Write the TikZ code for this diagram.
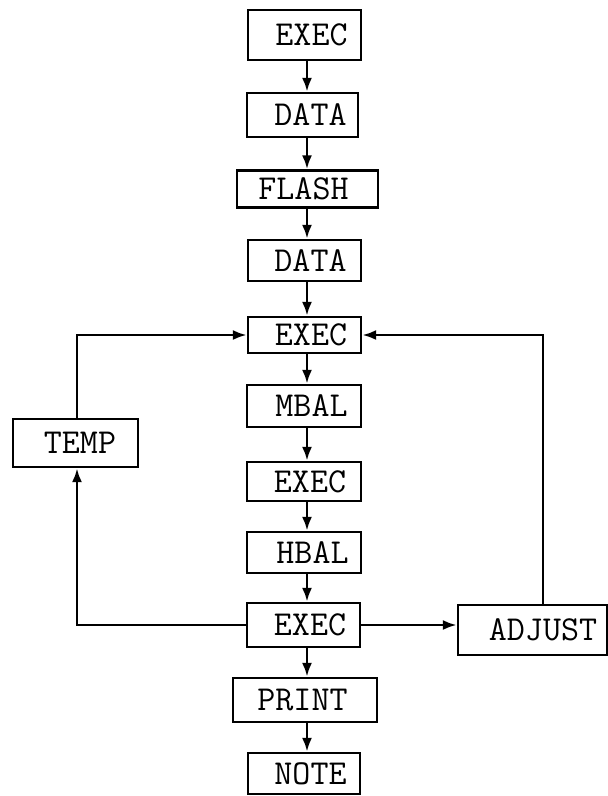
\documentclass[tikz,border=0pt]{standalone}
\usetikzlibrary{arrows.meta,calc}
\begin{document}
\begin{tikzpicture}[x=1pt,y=-1pt,
  box/.style={draw,line width=2.2pt,inner sep=0pt,rectangle},
  lbl/.style={font=\ttfamily\fontsize{35}{35}\selectfont,inner sep=0pt},
  conn/.style={line width=2.8pt},
  arr/.style={conn,-{Latex[length=14pt,width=10pt]}}]
\useasboundingbox (0,0) rectangle (608,796);
\newcommand{\bx}[7]{%
  \node[box,minimum width=#4pt,minimum height=#5pt] (#1) at (#2,#3) {};
  \node[lbl] at ([xshift=#6pt]#1.center) {#7};}
\bx{exA}{304.5}{35}{113}{50}{7}{EXEC}
\bx{daA}{302.5}{115}{111}{44}{8}{DATA}
\bx{fl}{307.5}{189}{141}{37}{-4}{FLASH}
\bx{daB}{304.5}{260.5}{113}{41}{6}{DATA}
\bx{exB}{304.5}{335}{113}{36}{6.5}{EXEC}
\bx{mb}{304}{406}{114}{42}{7.5}{MBAL}
\bx{exC}{304}{481.5}{114}{39}{6}{EXEC}
\bx{hb}{304}{552.5}{114}{41}{8.5}{HBAL}
\bx{exD}{303.5}{625}{113}{44}{6.5}{EXEC}
\bx{pr}{305}{700}{144}{44}{-2.5}{PRINT}
\bx{no}{304}{773.5}{112}{41}{6.5}{NOTE}
\bx{tm}{75.5}{443}{125}{48}{4.5}{TEMP}
\bx{ad}{532.5}{630}{149}{50}{10.5}{ADJUST}
\coordinate (sp) at (307,0);
\coordinate (lc) at (77,0);
\coordinate (rc) at (543,0);
\foreach \a/\b in {exA/daA,daA/fl,fl/daB,daB/exB,exB/mb,mb/exC,exC/hb,hb/exD,exD/pr,pr/no}
  \draw[arr] (\a.south -| sp) -- (\b.north -| sp);
\draw[arr] (exD.west) -- (exD.west -| lc) -- (tm.south -| lc);
\draw[arr] (tm.north -| lc) -- (exB.west -| lc) -- (exB.west);
\draw[arr] (exD.east) -- (exD.east -| ad.west);
\draw[arr] (ad.north -| rc) -- (exB.east -| rc) -- (exB.east);
\end{tikzpicture}
\end{document}
